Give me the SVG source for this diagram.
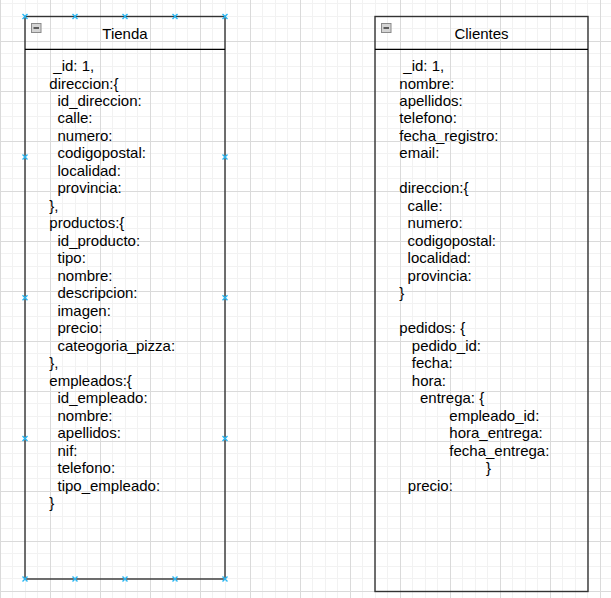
<svg xmlns="http://www.w3.org/2000/svg" width="611" height="598" viewBox="0 0 611 598">
<style>
.t{font-family:"Liberation Sans",Arial,sans-serif;font-size:15px;fill:#000}
.ttl{font-family:"Liberation Sans",Arial,sans-serif;font-size:15px;fill:#000;text-anchor:middle}
.box{fill:none;stroke:#333;stroke-width:1.4}
.sep{stroke:#000;stroke-width:1.2}
.h{stroke:#29b6f2;stroke-width:1.4;fill:none}
</style>
<defs>
<pattern id="grid" x="0" y="-9" width="50" height="50" patternUnits="userSpaceOnUse">
<rect x="0" y="0" width="50" height="50" fill="#fff"/>
<rect x="12" y="0" width="1" height="50" fill="#f2f2f2"/>
<rect x="25" y="0" width="1" height="50" fill="#f2f2f2"/>
<rect x="37" y="0" width="1" height="50" fill="#f2f2f2"/>
<rect x="0" y="12" width="50" height="1" fill="#f2f2f2"/>
<rect x="0" y="25" width="50" height="1" fill="#f2f2f2"/>
<rect x="0" y="37" width="50" height="1" fill="#f2f2f2"/>
<rect x="0" y="0" width="1" height="50" fill="#dadada"/>
<rect x="0" y="0" width="50" height="1" fill="#dadada"/>
</pattern>
<g id="icon">
<rect x="0.5" y="0.5" width="9.5" height="9" fill="#d4d4d4" stroke="#8a8a8a" stroke-width="1"/>
<line x1="2.5" y1="5" x2="8" y2="5" stroke="#333" stroke-width="1.5"/>
</g>
<path id="x" class="h" d="M-2.5,-2.5 L2.5,2.5 M-2.5,2.5 L2.5,-2.5"/>
</defs>
<rect x="0" y="0" width="611" height="598" fill="url(#grid)"/>

<g id="connectors"></g>

<g id="tienda">
<rect class="box" x="25" y="16.5" width="200" height="562.5"/>
<line class="sep" x1="25" y1="49.3" x2="225" y2="49.3"/>
<use href="#icon" x="31" y="23"/>
<text class="ttl" x="125" y="39">Tienda</text>
<text class="t" x="53.3" y="71">_id: 1,</text>
<text class="t" x="49.3" y="88.5">direccion:{</text>
<text class="t" x="57.5" y="106">id_direccion:</text>
<text class="t" x="57.5" y="123.4">calle:</text>
<text class="t" x="57.5" y="140.9">numero:</text>
<text class="t" x="57.5" y="158.4">codigopostal:</text>
<text class="t" x="57.5" y="175.9">localidad:</text>
<text class="t" x="57.5" y="193.4">provincia:</text>
<text class="t" x="49.3" y="210.8">},</text>
<text class="t" x="49.3" y="228.3">productos:{</text>
<text class="t" x="57.5" y="245.8">id_producto:</text>
<text class="t" x="57.5" y="263.3">tipo:</text>
<text class="t" x="57.5" y="280.8">nombre:</text>
<text class="t" x="57.5" y="298.2">descripcion:</text>
<text class="t" x="57.5" y="315.7">imagen:</text>
<text class="t" x="57.5" y="333.2">precio:</text>
<text class="t" x="57.5" y="350.7">cateogoria_pizza:</text>
<text class="t" x="49.3" y="368.2">},</text>
<text class="t" x="49.3" y="385.6">empleados:{</text>
<text class="t" x="57.5" y="403.1">id_empleado:</text>
<text class="t" x="57.5" y="420.6">nombre:</text>
<text class="t" x="57.5" y="438.1">apellidos:</text>
<text class="t" x="57.5" y="455.5">nif:</text>
<text class="t" x="57.5" y="473">telefono:</text>
<text class="t" x="57.5" y="490.5">tipo_empleado:</text>
<text class="t" x="49.3" y="508">}</text>
<use href="#x" x="25" y="16.5"/><use href="#x" x="75" y="16.5"/><use href="#x" x="125" y="16.5"/><use href="#x" x="175" y="16.5"/><use href="#x" x="225" y="16.5"/>
<use href="#x" x="25" y="579"/><use href="#x" x="75" y="579"/><use href="#x" x="125" y="579"/><use href="#x" x="175" y="579"/><use href="#x" x="225" y="579"/>
<use href="#x" x="25" y="157.1"/><use href="#x" x="25" y="297.8"/><use href="#x" x="25" y="438.4"/>
<use href="#x" x="225" y="157.1"/><use href="#x" x="225" y="297.8"/><use href="#x" x="225" y="438.4"/>
</g>

<g id="clientes">
<rect class="box" x="375" y="16.5" width="213" height="575"/>
<line class="sep" x1="375" y1="49.3" x2="588" y2="49.3"/>
<use href="#icon" x="381" y="23"/>
<text class="ttl" x="481.5" y="39">Clientes</text>
<text class="t" x="403.3" y="71">_id: 1,</text>
<text class="t" x="399.3" y="88.5">nombre:</text>
<text class="t" x="399.3" y="106">apellidos:</text>
<text class="t" x="399.3" y="123.4">telefono:</text>
<text class="t" x="399.3" y="140.9">fecha_registro:</text>
<text class="t" x="399.3" y="158.4">email:</text>
<text class="t" x="399.3" y="193.4">direccion:{</text>
<text class="t" x="407.6" y="210.8">calle:</text>
<text class="t" x="407.6" y="228.3">numero:</text>
<text class="t" x="407.6" y="245.8">codigopostal:</text>
<text class="t" x="407.6" y="263.3">localidad:</text>
<text class="t" x="407.6" y="280.8">provincia:</text>
<text class="t" x="399.3" y="298.2">}</text>
<text class="t" x="399.3" y="333.2">pedidos: {</text>
<text class="t" x="411.8" y="350.7">pedido_id:</text>
<text class="t" x="411.8" y="368.2">fecha:</text>
<text class="t" x="411.8" y="385.6">hora:</text>
<text class="t" x="420" y="403.1">entrega: {</text>
<text class="t" x="449.3" y="420.6">empleado_id:</text>
<text class="t" x="449.3" y="438.1">hora_entrega:</text>
<text class="t" x="449.3" y="455.5">fecha_entrega:</text>
<text class="t" x="486" y="473">}</text>
<text class="t" x="407.8" y="490.5">precio:</text>
</g>
</svg>
